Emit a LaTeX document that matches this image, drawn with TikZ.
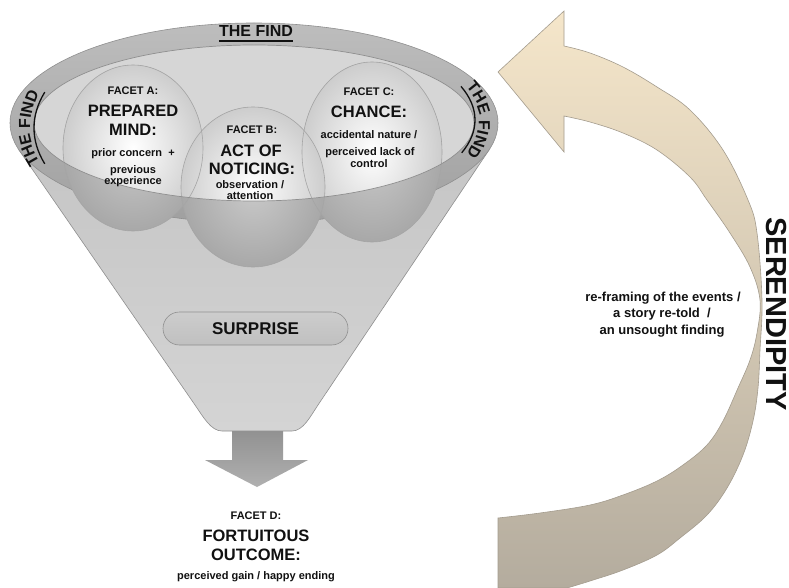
\documentclass[tikz,border=0pt]{standalone}
\usepackage{fontspec}
\setmainfont{Liberation Sans}
\usetikzlibrary{decorations.markings}
\definecolor{edgec}{HTML}{8F8F8F}
\definecolor{bodytop}{HTML}{C4C4C4}
\definecolor{bodybot}{HTML}{D4D4D4}
\definecolor{rimtop}{HTML}{BDBDBD}
\definecolor{rimbot}{HTML}{A0A0A0}
\definecolor{innerc}{HTML}{D6D6D6}
\definecolor{lowin}{HTML}{CACACA}
\definecolor{lowout}{HTML}{A8A8A8}
\definecolor{upout}{HTML}{CDCDCD}
\definecolor{circline}{HTML}{A5A5A5}
\definecolor{pillc}{HTML}{C0C0C0}
\definecolor{dnarrowc}{HTML}{A2A2A2}
\definecolor{arrtop}{HTML}{F5E6CA}
\definecolor{arrmid}{HTML}{CDBFA2}
\definecolor{arrbot}{HTML}{B4AC9E}
\definecolor{arrline}{HTML}{A49C8E}
\definecolor{txt}{HTML}{111111}
\newcommand\findfont{\fontsize{16}{16}\selectfont\bfseries}
\begin{document}
\begin{tikzpicture}[x=1pt,y=1pt,
  lbl/.style={font=\fontsize{11}{11}\selectfont\bfseries, anchor=base, inner sep=0pt, text=txt},
  ttl/.style={font=\fontsize{16.5}{16.5}\selectfont\bfseries, anchor=base, inner sep=0pt, text=txt},
  dsc/.style={font=\fontsize{11}{11}\selectfont\bfseries, anchor=base, inner sep=0pt, text=txt},
  midtxt/.style={font=\fontsize{13}{13}\selectfont\bfseries, anchor=base, inner sep=0pt, text=txt},
  ulstyle/.style={line width=1.3pt, draw=txt},
  lowcirc/.style={inner color=lowin, outer color=lowout},
  upcirc/.style={inner color=white, outer color=upout},
  fch/.style={font=\findfont, anchor=base west, inner sep=0pt, transform shape, text=txt},
]
\useasboundingbox (0,-588) rectangle (789,0);
\fill[white] (0,-588) rectangle (789,0);

% ---------- serendipity arrow ----------
\path[draw=arrline, line width=0.6pt, top color=arrtop, middle color=arrmid, bottom color=arrbot]
  (498,-72) -- (564,-11) -- (564,-46)
  -- plot[smooth, tension=0.6] coordinates {(564,-46) (590,-53) (623,-67) (657,-87) (690,-110) (723,-150) (748,-200) (757,-233) (762,-300) (760,-350) (758,-388) (753,-421) (743,-455) (727,-488) (707,-515) (680,-538) (657,-555) (623,-570) (590,-581) (567,-588)}
  -- (498,-588) -- (498,-518)
  -- plot[smooth, tension=0.6] coordinates {(498,-518) (540,-513) (590,-505) (623,-495) (657,-481) (683,-465) (707,-445) (723,-421) (738,-388) (750,-360) (757,-333) (760,-300) (750,-267) (730,-233) (707,-200) (690,-177) (657,-150) (623,-133) (590,-122) (564,-116)}
  -- (564,-152) -- cycle;

% ---------- funnel ----------
\path[draw=edgec, line width=0.6pt, top color=bodytop, bottom color=bodybot]
  (254,-123) -- (19,-150) -- (195,-405)
  .. controls (203.3,-417) and (211,-431) .. (222,-431)
  -- (292,-431)
  .. controls (303,-431) and (310,-417) .. (318,-405)
  -- (489,-150) -- cycle;
\path[draw=edgec, line width=0.6pt, top color=rimtop, bottom color=rimbot]
  (254,-123) ellipse [x radius=244, y radius=100];
\fill[innerc] (254,-123) ellipse [x radius=220, y radius=78];

% lower (seen through) parts of the facet bubbles
\path[lowcirc] (133,-148) ellipse [x radius=70, y radius=83];
\path[lowcirc] (372,-152) ellipse [x radius=70, y radius=90];
\path[lowcirc] (253,-187) ellipse [x radius=72, y radius=80];
% upper parts inside the mouth
\begin{scope}
  \clip (254,-123) ellipse [x radius=220, y radius=78];
  \path[upcirc] (133,-148) ellipse [x radius=70, y radius=83];
  \path[upcirc] (372,-152) ellipse [x radius=70, y radius=90];
  \path[upcirc] (253,-187) ellipse [x radius=72, y radius=80];
\end{scope}
\draw[circline, line width=0.6pt] (133,-148) ellipse [x radius=70, y radius=83];
\draw[circline, line width=0.6pt] (372,-152) ellipse [x radius=70, y radius=90];
\draw[circline, line width=0.6pt] (253,-187) ellipse [x radius=72, y radius=80];
\draw[edgec, line width=0.7pt] (254,-123) ellipse [x radius=220, y radius=78];

% ---------- THE FIND labels ----------
\node[font=\findfont, anchor=base, inner sep=0pt, text=txt] (findtop) at (256,-37) {THE FIND};
\draw[ulstyle] ([yshift=-4pt]findtop.base west) -- ([yshift=-4pt]findtop.base east);
% left label, reading upwards
\path[decorate, decoration={markings,
   mark=at position 0pt with {\node[fch] (lT) {T};},
   mark=at position 9.78pt with {\node[fch] (lH) {H};},
   mark=at position 21.33pt with {\node[fch] (lE) {E};},
   mark=at position 36.45pt with {\node[fch] (lF) {F};},
   mark=at position 46.22pt with {\node[fch] (lI) {I};},
   mark=at position 50.67pt with {\node[fch] (lN) {N};},
   mark=at position 62.22pt with {\node[fch] (lD) {D};}}]
  (254,-128) ++(197:224 and 120) arc[start angle=197, end angle=150, x radius=224, y radius=120];
% right label, reading downwards
\path[decorate, decoration={markings,
   mark=at position 0pt with {\node[fch] (rT) {T};},
   mark=at position 9.78pt with {\node[fch] (rH) {H};},
   mark=at position 21.33pt with {\node[fch] (rE) {E};},
   mark=at position 36.45pt with {\node[fch] (rF) {F};},
   mark=at position 46.22pt with {\node[fch] (rI) {I};},
   mark=at position 50.67pt with {\node[fch] (rN) {N};},
   mark=at position 62.22pt with {\node[fch] (rD) {D};}}]
  (254,-120) ++(19.5:225 and 100) arc[start angle=19.5, end angle=-35, x radius=225, y radius=100];
\draw[ulstyle] (254,-128) ++(198:220 and 116) arc[start angle=198, end angle=162, x radius=220, y radius=116];
\draw[ulstyle] (254,-120) ++(20.5:221 and 96) arc[start angle=20.5, end angle=-20, x radius=221, y radius=96];

% ---------- facet texts ----------
\node[lbl] (fa) at (133,-95) {FACET A:};
\node[ttl] (fa1) at (133,-116.7) {PREPARED};
\node[ttl] (fa2) at (133,-135.7) {MIND:};
\node[dsc] (fa3) at (133,-157) {prior concern~~+};
\node[dsc] (fa4) at (133,-174) {previous};
\node[dsc] (fa5) at (133,-185) {experience};

\node[lbl] (fb) at (252,-134) {FACET B:};
\node[ttl] (fb1) at (251,-156.7) {ACT OF};
\node[ttl] (fb2) at (252,-175) {NOTICING:};
\node[dsc] (fb3) at (250,-188.3) {observation /};
\node[dsc] (fb4) at (250,-200) {attention};

\node[lbl] (fc) at (369,-96) {FACET C:};
\node[ttl] (fc1) at (369,-117.3) {CHANCE:};
\node[dsc] (fc2) at (369,-138.7) {accidental nature /};
\node[dsc] (fc3) at (370,-156) {perceived lack of};
\node[dsc] (fc4) at (369,-167.3) {control};

% ---------- surprise + outlet arrow ----------
\node[draw=edgec, line width=0.6pt, top color=pillc!80!white, bottom color=pillc, rounded corners=16.5pt,
      minimum width=185pt, minimum height=33pt, inner sep=0pt,
      font=\fontsize{17}{17}\selectfont\bfseries, text=txt] (surprise) at (255.5,-328.5) {SURPRISE};
\path[top color=dnarrowc!90!black, bottom color=dnarrowc!85!white]
  (232,-431) -- (283,-431) -- (283,-460) -- (308,-460) -- (257,-487) -- (205,-460) -- (232,-460) -- cycle;

% ---------- facet D ----------
\node[lbl] (fd) at (256,-519) {FACET D:};
\node[ttl] (fd1) at (256,-541.7) {FORTUITOUS};
\node[ttl] (fd2) at (256,-560) {OUTCOME:};
\node[dsc] (fd3) at (256,-579.3) {perceived gain / happy ending};

% ---------- serendipity texts ----------
\node[midtxt] (m1) at (663,-301.7) {re-framing of the events /};
\node[midtxt] (m2) at (662,-317) {a story re-told~~/};
\node[midtxt] (m3) at (662,-334) {an unsought finding};
\node[rotate=-90, inner sep=0pt, font=\fontsize{29}{29}\selectfont\bfseries, text=txt] (seren) at (776,-314) {SERENDIPITY};
\end{tikzpicture}
\end{document}
